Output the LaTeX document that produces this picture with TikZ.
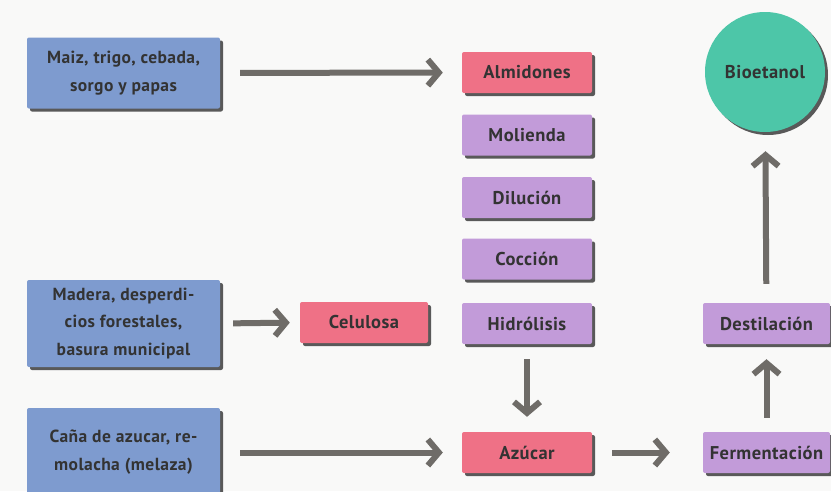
\documentclass[tikz,border=0pt]{standalone}
\usepackage{fontspec}
\setmainfont{PT Sans}[LetterSpace=2.5]
\usetikzlibrary{arrows.meta,shadows}
\definecolor{fuente}{HTML}{7E9BCF}
\definecolor{producto}{HTML}{EF7186}
\definecolor{proceso}{HTML}{C29BD9}
\definecolor{final}{HTML}{4DC6A8}
\definecolor{flecha}{HTML}{6F6C68}
\definecolor{fondo}{HTML}{F9F9F8}

\tikzset{
  caja/.style={rounded corners=2pt, text=black!80, font=\fontsize{18.5}{20}\bfseries,
    minimum width=130pt, minimum height=41pt,
    drop shadow={shadow xshift=3pt, shadow yshift=-3pt, fill=black!65, opacity=1}},
  fuentebox/.style={caja, fill=fuente, minimum width=193pt, minimum height=71pt,
    align=center, font=\fontsize{17.5}{27.5}\bfseries},
  productobox/.style={caja, fill=producto},
  procesobox/.style={caja, fill=proceso},
  paso/.style={draw=flecha, line width=6pt, -{Straight Barb[length=11pt,width=26pt]}}
}

\begin{document}
\begin{tikzpicture}[x=1pt, y=-1pt]
    \fill[fondo] (0,0) rectangle (831,491);
    \useasboundingbox (0,0) rectangle (831,491);
    % materias primas
    \node[fuentebox] (maiz) at (123.5,73) {Maiz, trigo, cebada,\\sorgo y papas};
    \node[fuentebox, minimum height=87pt] (madera) at (123.5,323.5) {Madera, desperdi-\\cios forestales,\\basura municipal};
    \node[fuentebox, minimum height=88pt] (cana) at (123.5,452) {Caña de azucar, re-\\molacha (melaza)};
    % columna central
    \node[productobox] (almidones) at (527,72.5) {Almidones};
    \node[procesobox] (molienda) at (527,135) {Molienda};
    \node[procesobox] (dilucion) at (527,197.5) {Dilución};
    \node[procesobox] (coccion) at (527,259) {Cocción};
    \node[procesobox] (hidrolisis) at (527,323.5) {Hidrólisis};
    \node[productobox] (azucar) at (527,452.5) {Azúcar};
    \node[productobox, minimum width=128pt] (celulosa) at (364,322.5) {Celulosa};
    % columna derecha
    \node[procesobox, minimum width=127pt] (fermentacion) at (766.5,452.5) {Fermentación};
    \node[procesobox, minimum width=127pt] (destilacion) at (766.5,323.5) {Destilación};
    \node[circle, fill=final, minimum size=120pt, text=black!80, font=\fontsize{18.5}{20}\bfseries,
      drop shadow={shadow xshift=3pt, shadow yshift=-3pt, fill=black!65, opacity=1}] (bioetanol) at (765,72) {Bioetanol};
    % flechas
    \draw[paso, shorten <=20pt, shorten >=19pt] (maiz) -- (almidones);
    \draw[paso, shorten <=13pt, shorten >=10pt] (madera.east) -- (celulosa.west);
    \draw[paso, shorten <=20pt, shorten >=19pt] (cana.east |- azucar) -- (azucar);
    \draw[paso, shorten <=15pt, shorten >=15pt] (hidrolisis) -- (azucar);
    \draw[paso, shorten <=20pt, shorten >=33pt] (azucar) -- (fermentacion);
    \draw[paso, shorten <=14pt, shorten >=15pt] (fermentacion) -- (destilacion);
    \draw[paso, shorten <=19pt, shorten >=19pt] (destilacion) -- (bioetanol);
\end{tikzpicture}
\end{document}
